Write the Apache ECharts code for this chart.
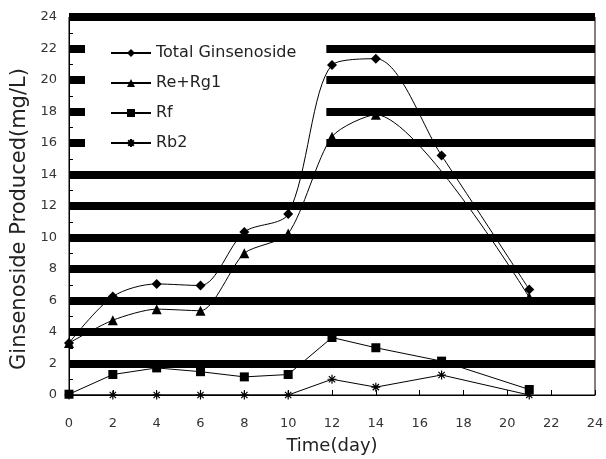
<!DOCTYPE html>
<html>
<head>
<meta charset="utf-8">
<script src="https://cdn.jsdelivr.net/npm/echarts@6/dist/echarts.min.js"></script>
<style>
  html, body { margin: 0; padding: 0; background: #fff; }
  #chart { width: 606px; height: 459px; }
</style>
</head>
<body>
<div id="chart"></div>
<script>
// days sampled
var days = [0, 2, 4, 6, 8, 10, 12, 14, 17, 21];
var total = [3.3, 6.25, 7.05, 6.95, 10.35, 11.5, 20.95, 21.35, 15.2, 6.7];
// Re+Rg1 has no marker at day 17
var reRg1Days = [0, 2, 4, 6, 8, 10, 12, 14, 21];
var reRg1 = [3.3, 4.75, 5.45, 5.35, 9.0, 10.25, 16.4, 17.8, 6.2];
var rf = [0.05, 1.3, 1.72, 1.48, 1.15, 1.3, 3.65, 3.0, 2.15, 0.35];
var rb2 = [0, 0, 0, 0, 0, 0, 1.0, 0.5, 1.27, 0];

var seriesNames = ['Total Ginsenoside', 'Re+Rg1', 'Rf', 'Rb2'];

function pairs(xs, ys) {
    var out = [];
    for (var i = 0; i < xs.length; i++) out.push([xs[i], ys[i]]);
    return out;
}

var asterisk = 'path://M0,5L10,5M5,0L5,10M1.5,1.5L8.5,8.5M8.5,1.5L1.5,8.5';
var font = 'DejaVu Sans';

var chart = echarts.init(document.getElementById('chart'));
var option = {
    backgroundColor: '#fff',
    animation: false,
    textStyle: { fontFamily: font },
    grid: {
        left: 69, right: 11, top: 17, bottom: 64,
        outerBoundsMode: 'none',
        show: true, borderColor: '#000', borderWidth: 1
    },
    legend: {
        z: 1, // white box hides the thick grid lines but stays under the curves
        left: 85, top: 30,
        orient: 'vertical',
        backgroundColor: '#fff',
        padding: [15, 30, 10, 25],
        itemGap: 14,
        itemWidth: 40,
        itemHeight: 10,
        data: seriesNames,
        textStyle: { fontFamily: font, fontSize: 16, color: '#222' }
    },
    xAxis: {
        type: 'value',
        min: 0, max: 24, interval: 2,
        name: 'Time(day)',
        nameLocation: 'middle',
        nameGap: 42,
        nameTextStyle: { fontSize: 18, color: '#222' },
        axisLine: { lineStyle: { color: '#000', width: 1 } },
        axisTick: { inside: true, length: 5, lineStyle: { color: '#000' } },
        axisLabel: { fontSize: 13, color: '#333', margin: 22 },
        splitLine: { show: false }
    },
    yAxis: {
        type: 'value',
        min: 0, max: 24, interval: 2,
        name: 'Ginsenoside Produced(mg/L)',
        nameLocation: 'middle',
        nameGap: 39,
        nameTextStyle: { fontSize: 21, color: '#222', padding: [0, 26, 0, 0] },
        axisLine: { lineStyle: { color: '#000', width: 1 } },
        axisTick: { inside: true, length: 5, lineStyle: { color: '#000' } },
        minorTick: { show: true, splitNumber: 2, length: 4, lineStyle: { color: '#000' } },
        axisLabel: { fontSize: 13, color: '#333', margin: 12 },
        splitLine: {
            show: true,
            showMinLine: false,
            lineStyle: { color: '#000', width: 8 }
        }
    },
    series: [
        {
            name: seriesNames[0], type: 'line', smooth: 0.3, z: 3,
            data: pairs(days, total),
            symbol: 'diamond', symbolSize: 10,
            lineStyle: { color: '#000', width: 1 },
            itemStyle: { color: '#000' }
        },
        {
            name: seriesNames[1], type: 'line', smooth: 0.25, z: 3,
            data: pairs(reRg1Days, reRg1),
            symbol: 'triangle', symbolSize: 10,
            lineStyle: { color: '#000', width: 1 },
            itemStyle: { color: '#000' }
        },
        {
            name: seriesNames[2], type: 'line', smooth: false, z: 3,
            data: pairs(days, rf),
            symbol: 'rect', symbolSize: 9,
            lineStyle: { color: '#000', width: 1 },
            itemStyle: { color: '#000' }
        },
        {
            name: seriesNames[3], type: 'line', smooth: false, z: 3,
            data: pairs(days, rb2),
            symbol: asterisk, symbolSize: 9,
            lineStyle: { color: '#000', width: 1 },
            itemStyle: { color: '#000', borderColor: '#000', borderWidth: 1.2 }
        }
    ]
};
chart.setOption(option);
</script>
</body>
</html>
